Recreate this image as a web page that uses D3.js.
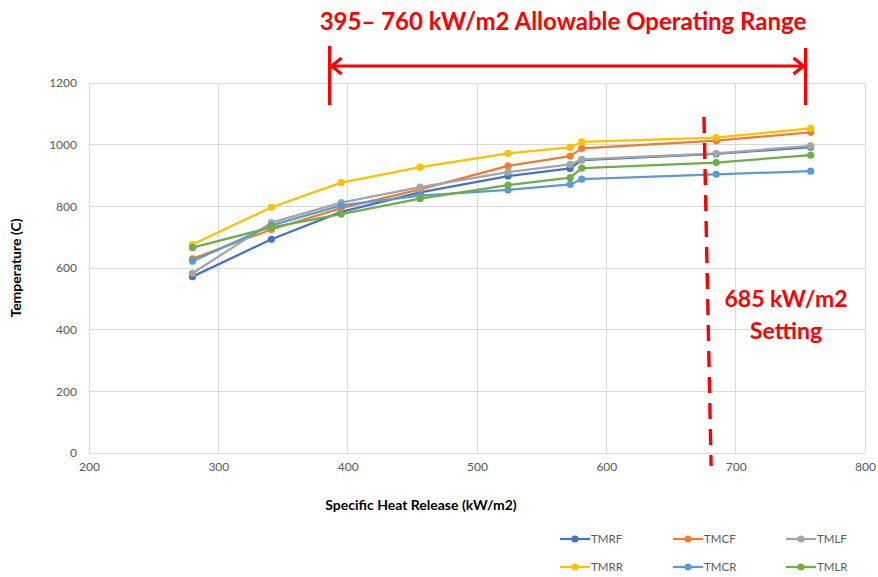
<!DOCTYPE html>
<html>
<head>
<meta charset="utf-8">
<script src="https://cdn.jsdelivr.net/npm/d3@7"></script>
<style>
  html, body { margin: 0; padding: 0; background: #fff; }
  svg { display: block; }
</style>
</head>
<body>
<script>
// ---------- DATA ----------
const heatRelease = [280, 341, 395, 456, 524, 572, 581, 685, 758];
const seriesNames = ["TMRF", "TMCF", "TMLF", "TMRR", "TMCR", "TMLR"];
const TMRF = [572, 693, 782, 845, 898, 923, 950, 970, 992];
const TMCF = [630, 725, 794, 855, 931, 963, 988, 1013, 1040];
const TMLF = [583, 747, 812, 862, 911, 936, 952, 972, 996];
const TMRR = [676, 797, 877, 927, 972, 991, 1009, 1023, 1053];
const TMCR = [622, 738, 803, 835, 853, 871, 888, 904, 914];
const TMLR = [666, 732, 775, 825, 869, 893, 924, 942, 966];
const seriesValues = [TMRF, TMCF, TMLF, TMRR, TMCR, TMLR];
const seriesColors = ["#4472C4", "#ED7D31", "#A5A5A5", "#FFC000", "#5B9BD5", "#70AD47"];
const xTicks = [200, 300, 400, 500, 600, 700, 800];
const yTicks = [0, 200, 400, 600, 800, 1000, 1200];
const rangeLabel = "395\u2013 760 kW/m2 Allowable Operating Range";
const rangeStart = 386, rangeEnd = 754;       // arrow ends (kW/m2)
const settingTop = 675.5, settingBottom = 681; // dashed setting line (slightly slanted)
const settingLabel = ["685 kW/m2", "Setting"];

// ---------- LAYOUT ----------
const W = 878, H = 577;
const plot = { left: 89, right: 865, top: 83, bottom: 453 };
const font = "Lato, 'Open Sans', sans-serif";
const red = "#FF0000";

const svg = d3.select("body").append("svg").attr("width", W).attr("height", H);

const x = d3.scaleLinear().domain([200, 800]).range([plot.left, plot.right]);
const y = d3.scaleLinear().domain([0, 1200]).range([plot.bottom, plot.top]);

// gridlines
svg.append("g").selectAll("line").data(xTicks).join("line")
  .attr("x1", d => x(d)).attr("x2", d => x(d))
  .attr("y1", plot.top).attr("y2", plot.bottom)
  .attr("stroke", "#d9d9d9").attr("stroke-width", 1).attr("shape-rendering", "crispEdges");
svg.append("g").selectAll("line").data(yTicks).join("line")
  .attr("x1", plot.left).attr("x2", plot.right)
  .attr("y1", d => y(d)).attr("y2", d => y(d))
  .attr("stroke", "#d9d9d9").attr("stroke-width", 1).attr("shape-rendering", "crispEdges");

// axes (labels only, via d3 axes)
const yAxis = svg.append("g").attr("transform", `translate(${plot.left},0)`)
  .call(d3.axisLeft(y).tickValues(yTicks).tickSize(0).tickPadding(12).tickFormat(d3.format("d")));
const xAxis = svg.append("g").attr("transform", `translate(0,${plot.bottom})`)
  .call(d3.axisBottom(x).tickValues(xTicks).tickSize(0).tickPadding(9).tickFormat(d3.format("d")));
[xAxis, yAxis].forEach(g => {
  g.select(".domain").remove();
  g.selectAll("text").attr("font-family", font).attr("font-size", 12).attr("fill", "#595959");
});

// axis titles
svg.append("text")
  .attr("transform", `translate(21,${(plot.top + plot.bottom) / 2}) rotate(-90)`)
  .attr("text-anchor", "middle").attr("font-family", font).attr("font-weight", 700)
  .attr("font-size", 14).attr("fill", "#000").text("Temperature (C)");
svg.append("text")
  .attr("x", 421).attr("y", 510)
  .attr("text-anchor", "middle").attr("font-family", font).attr("font-weight", 700)
  .attr("font-size", 14).attr("fill", "#000").text("Specific Heat Release (kW/m2)");

// series
const line = d3.line().x((d, i) => x(heatRelease[i])).y(d => y(d));
seriesNames.forEach((name, si) => {
  const g = svg.append("g");
  g.append("path").datum(seriesValues[si])
    .attr("d", line).attr("fill", "none")
    .attr("stroke", seriesColors[si]).attr("stroke-width", 2.25).attr("stroke-linejoin", "round");
  g.selectAll("circle").data(seriesValues[si]).join("circle")
    .attr("cx", (d, i) => x(heatRelease[i])).attr("cy", d => y(d))
    .attr("r", 3.6).attr("fill", seriesColors[si]);
});

// legend
const legendCols = [560, 673, 786];
const legendRows = [539, 567];
seriesNames.forEach((name, si) => {
  const lx = legendCols[si % 3], ly = legendRows[Math.floor(si / 3)];
  const g = svg.append("g");
  g.append("line").attr("x1", lx).attr("x2", lx + 30).attr("y1", ly).attr("y2", ly)
    .attr("stroke", seriesColors[si]).attr("stroke-width", 2.25);
  g.append("circle").attr("cx", lx + 15).attr("cy", ly).attr("r", 3.6).attr("fill", seriesColors[si]);
  g.append("text").attr("x", lx + 31).attr("y", ly + 4)
    .attr("font-family", font).attr("font-size", 11.5).attr("fill", "#595959").text(name);
});

// ---------- ANNOTATIONS ----------
svg.append("text").attr("x", 563).attr("y", 30)
  .attr("text-anchor", "middle").attr("font-family", font).attr("font-weight", 700)
  .attr("font-size", 24).attr("fill", red).text(rangeLabel);

const ay = 66;
const ax1 = x(rangeStart), ax2 = x(rangeEnd);
const ann = svg.append("g").attr("stroke", red).attr("fill", "none").attr("stroke-width", 3.2);
ann.append("line").attr("x1", ax1).attr("x2", ax2).attr("y1", ay).attr("y2", ay);
ann.append("line").attr("x1", ax1).attr("x2", ax1).attr("y1", 46).attr("y2", 105);
ann.append("line").attr("x1", ax2).attr("x2", ax2).attr("y1", 48).attr("y2", 105);
ann.append("path").attr("d", `M${ax1 + 12},${ay - 8} L${ax1 + 2},${ay} L${ax1 + 12},${ay + 8}`);
ann.append("path").attr("d", `M${ax2 - 12},${ay - 8} L${ax2 - 2},${ay} L${ax2 - 12},${ay + 8}`);

svg.append("line")
  .attr("x1", x(settingTop)).attr("y1", 117)
  .attr("x2", x(settingBottom)).attr("y2", 466)
  .attr("stroke", red).attr("stroke-width", 3.4).attr("stroke-dasharray", "16,10");

svg.append("text").attr("x", 786).attr("y", 307)
  .attr("text-anchor", "middle").attr("font-family", font).attr("font-weight", 700)
  .attr("font-size", 23).attr("fill", red).text(settingLabel[0]);
svg.append("text").attr("x", 786).attr("y", 339)
  .attr("text-anchor", "middle").attr("font-family", font).attr("font-weight", 700)
  .attr("font-size", 23).attr("fill", red).text(settingLabel[1]);
</script>
</body>
</html>
